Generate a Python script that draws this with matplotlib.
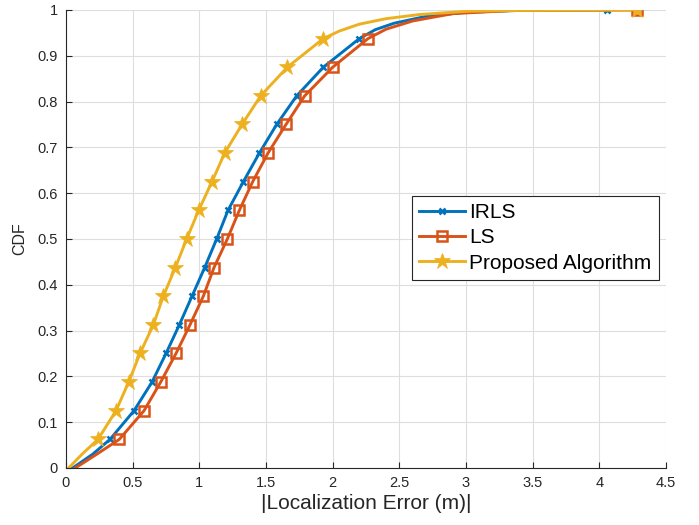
import numpy as np
import matplotlib
matplotlib.use("Agg")
import matplotlib.pyplot as plt

plt.rcParams['font.family'] = ['Liberation Sans', 'DejaVu Sans']

# CDF levels where markers sit (1/16 steps)
levels = list(np.arange(1, 16) / 16)

# IRLS curve
irls_x = [0.05, 0.2, 0.33, 0.51, 0.645, 0.75, 0.85, 0.945, 1.04, 1.13, 1.215, 1.33,
          1.45, 1.58, 1.73, 1.93, 2.2, 2.32, 2.46, 2.7, 3.0, 3.4, 4.06]
irls_y = [0, 0.03] + levels + [0.957, 0.971, 0.986, 0.995, 0.999, 1.0]

# LS curve
ls_x = [0.07, 0.23, 0.40, 0.585, 0.71, 0.825, 0.93, 1.03, 1.11, 1.21, 1.30, 1.40,
        1.515, 1.65, 1.79, 2.0, 2.265, 2.4, 2.6, 2.9, 3.35, 4.28]
ls_y = [0, 0.03] + levels + [0.958, 0.976, 0.992, 0.999, 1.0]

# Proposed algorithm curve
prop_x = [0.02, 0.12, 0.24, 0.375, 0.47, 0.555, 0.655, 0.73, 0.82, 0.905, 0.995, 1.095,
          1.19, 1.32, 1.46, 1.66, 1.93, 2.05, 2.2, 2.4, 2.65, 3.0, 3.4, 4.28]
prop_y = [0, 0.03] + levels + [0.954, 0.969, 0.981, 0.99, 0.997, 0.999, 1.0]

xticks = [0, 0.5, 1, 1.5, 2, 2.5, 3, 3.5, 4, 4.5]
yticks = [0, 0.1, 0.2, 0.3, 0.4, 0.5, 0.6, 0.7, 0.8, 0.9, 1]


def marker_idx(ys):
    # markers at the 1/16 levels plus the last point
    return list(range(2, 17)) + [len(ys) - 1]


fig = plt.figure(figsize=(6.99, 5.25), dpi=100)
ax = fig.add_axes([0.0944, 0.1086, 0.8584, 0.8724])

ax.plot(irls_x, irls_y, color='#0072BD', lw=2.1, marker='x', ms=5, mew=1.8,
        markevery=marker_idx(irls_y), label='IRLS')
ax.plot(ls_x, ls_y, color='#D95319', lw=2.1, marker='s', ms=7, mew=1.8, mfc='none',
        markevery=marker_idx(ls_y), label='LS')
ax.plot(prop_x, prop_y, color='#EDB120', lw=2.1, marker='*', ms=12, mew=0.5,
        markevery=marker_idx(prop_y), label='Proposed Algorithm')

ax.set_xlim(0, 4.5)
ax.set_ylim(0, 1)
ax.set_xticks(xticks)
ax.set_yticks(yticks)
ax.set_xticklabels(['%g' % v for v in xticks])
ax.set_yticklabels(['%g' % v for v in yticks])
ax.tick_params(direction='in', length=4, width=0.8, colors='#262626', labelsize=10.5, pad=6)
ax.grid(True, color='#dedede', linewidth=0.8)
ax.set_axisbelow(True)
for s in ['top', 'right']:
    ax.spines[s].set_visible(False)
for s in ['left', 'bottom']:
    ax.spines[s].set_color('#262626')
    ax.spines[s].set_linewidth(0.8)

ax.set_xlabel('|Localization Error (m)|', fontsize=15, color='#262626', labelpad=3)
ax.set_ylabel('CDF', fontsize=11.5, color='#262626', labelpad=7)

leg = ax.legend(loc='upper left', bbox_to_anchor=(0.577, 0.594), borderaxespad=0,
                fontsize=15, fancybox=False, framealpha=1, edgecolor='#262626',
                handlelength=2.2, handletextpad=0.2, labelspacing=0.3, borderpad=0.35)
leg.get_frame().set_linewidth(0.8)

fig.savefig('out.png', dpi=100)
